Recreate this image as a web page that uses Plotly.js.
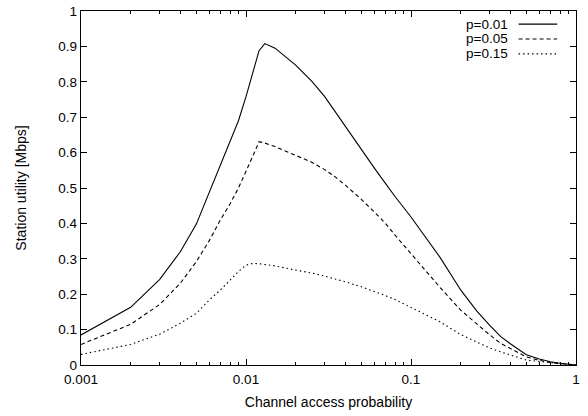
<!DOCTYPE html>
<html>
<head>
<meta charset="utf-8">
<script src="https://cdn.plot.ly/plotly-3.0.1.min.js"></script>
<style>html,body{margin:0;padding:0;background:#fff}#chart{width:588px;height:416px}</style>
</head>
<body>
<div id="chart"></div>
<script>
const accessProb = [0.001,0.002,0.003,0.004,0.005,0.006,0.007,0.008,0.009,0.01,0.011,0.012,0.013,0.015,0.02,0.025,0.03,0.035,0.04,0.05,0.06,0.07,0.08,0.1,0.12,0.15,0.2,0.25,0.3,0.35,0.4,0.5,0.6,0.7,0.8,0.9,1];
const utilP001 = [0.085,0.163,0.242,0.32,0.398,0.488,0.563,0.628,0.69,0.758,0.825,0.888,0.908,0.895,0.847,0.802,0.758,0.713,0.672,0.607,0.556,0.513,0.476,0.418,0.368,0.304,0.212,0.153,0.112,0.080,0.060,0.029,0.017,0.009,0.005,0.002,0];
const utilP005 = [0.058,0.115,0.171,0.231,0.292,0.352,0.41,0.455,0.50,0.545,0.59,0.631,0.627,0.617,0.593,0.573,0.552,0.530,0.508,0.468,0.432,0.400,0.367,0.315,0.270,0.219,0.155,0.115,0.085,0.061,0.046,0.023,0.013,0.007,0.004,0.002,0];
const utilP015 = [0.030,0.058,0.087,0.118,0.146,0.184,0.212,0.24,0.264,0.282,0.287,0.286,0.284,0.280,0.268,0.260,0.251,0.243,0.235,0.221,0.208,0.196,0.185,0.163,0.145,0.122,0.086,0.065,0.048,0.037,0.029,0.014,0.010,0.006,0.003,0.0015,0];
const seriesNames = ["p=0.01","p=0.05","p=0.15"];
const xTickVals = [0.001,0.01,0.1,1];
const xTickText = ["0.001","0.01","0.1","1"];
const xMinorTicks = [0.002,0.003,0.004,0.005,0.006,0.007,0.008,0.009,0.02,0.03,0.04,0.05,0.06,0.07,0.08,0.09,0.2,0.3,0.4,0.5,0.6,0.7,0.8,0.9];
const yTickVals = [0,0.1,0.2,0.3,0.4,0.5,0.6,0.7,0.8,0.9,1];
const yTickText = ["0","0.1","0.2","0.3","0.4","0.5","0.6","0.7","0.8","0.9","1"];

const fam = "Liberation Sans, Arial, sans-serif";
const tickFont = {family: fam, size: 13.5, color: "#000"};
const titleFont = {family: fam, size: 14, color: "#000"};
const dashes = ["solid", "4px,3px", "1.5px,3px"];
const ys = [utilP001, utilP005, utilP015];
const traces = ys.map((y, i) => ({
  x: accessProb, y: y, type: "scatter", mode: "lines", name: seriesNames[i],
  line: {color: "#000", width: 1.1, dash: dashes[i]}
}));

// gnuplot-style key: right-aligned label with the line sample to its right
const keyTop = 0.963, keyStep = 0.042;
const annotations = seriesNames.map((n, i) => ({
  xref: "paper", yref: "paper", x: 0.866, y: keyTop - i * keyStep,
  xanchor: "right", yanchor: "middle", text: n, showarrow: false,
  font: {family: fam, size: 13.5, color: "#000"}
}));
const shapes = seriesNames.map((n, i) => ({
  type: "line", xref: "paper", yref: "paper",
  x0: 0.884, x1: 0.962, y0: keyTop - i * keyStep, y1: keyTop - i * keyStep,
  line: {color: "#000", width: 1.1, dash: dashes[i]}
}));

const layout = {
  width: 588, height: 416,
  margin: {l: 81, r: 12, t: 11, b: 51},
  paper_bgcolor: "#fff", plot_bgcolor: "#fff",
  font: tickFont,
  showlegend: false,
  annotations: annotations,
  shapes: shapes,
  xaxis: {
    type: "log", range: [-3, 0], tickmode: "array", tickvals: xTickVals, ticktext: xTickText,
    ticks: "inside", ticklen: 6, tickcolor: "#000", showgrid: false, zeroline: false,
    showline: true, linecolor: "#000", linewidth: 1.2, mirror: "allticks",
    tickfont: tickFont, ticklabelstandoff: 2,
    minor: {tickmode: "array", tickvals: xMinorTicks, ticks: "inside", ticklen: 3, tickcolor: "#000", showgrid: false},
    title: {text: "Channel access probability", font: titleFont, standoff: 10}
  },
  yaxis: {
    range: [0, 1], tickmode: "array", tickvals: yTickVals, ticktext: yTickText,
    ticks: "inside", ticklen: 6, tickcolor: "#000", showgrid: false, zeroline: false,
    showline: true, linecolor: "#000", linewidth: 1.2, mirror: "allticks",
    tickfont: tickFont,
    title: {text: "Station utility [Mbps]", font: titleFont, standoff: 28}
  }
};
Plotly.newPlot("chart", traces, layout, {displayModeBar: false, staticPlot: true});
</script>
</body>
</html>
